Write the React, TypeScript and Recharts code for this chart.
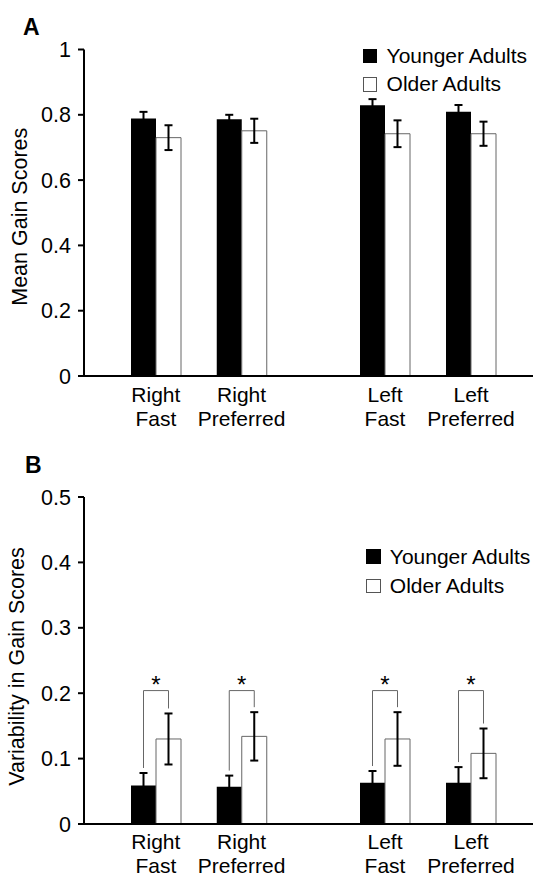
import React from "react";
import { BarChart, Bar, XAxis, YAxis, ErrorBar, Legend, LabelList, Label } from "recharts";

// category labels (two lines each)
const categories = ["Right\nFast", "Right\nPreferred", "Left\nFast", "Left\nPreferred"];

// panel A: mean gain scores
const meanYoung = [0.789, 0.786, 0.829, 0.809];
const meanYoungErr = [0.02, 0.014, 0.019, 0.021];
const meanOld = [0.73, 0.751, 0.742, 0.742];
const meanOldErr = [0.038, 0.037, 0.041, 0.037];
const meanTicks = [0, 0.2, 0.4, 0.6, 0.8, 1];

// panel B: variability in gain scores
const varYoung = [0.059, 0.057, 0.063, 0.063];
const varYoungErr = [0.019, 0.017, 0.018, 0.024];
const varOld = [0.13, 0.134, 0.13, 0.108];
const varOldErr = [0.039, 0.037, 0.041, 0.038];
const varTicks = [0, 0.1, 0.2, 0.3, 0.4, 0.5];
const varSignificant = [true, true, true, true];
const bracketLevel = 0.204;

const seriesKeys = ["young", "old"];
const seriesNames = { young: "Younger Adults", old: "Older Adults" };

type Row = {
  category: string;
  young: number;
  youngErr: number;
  old: number;
  oldErr: number;
  sig: boolean;
};

function buildRows(young: number[], youngErr: number[], old: number[], oldErr: number[], sig?: boolean[]): Row[] {
  return categories.map((category, i) => ({
    category,
    young: young[i],
    youngErr: youngErr[i],
    old: old[i],
    oldErr: oldErr[i],
    sig: sig ? sig[i] : false,
  }));
}

const meanRows = buildRows(meanYoung, meanYoungErr, meanOld, meanOldErr);
const varRows = buildRows(varYoung, varYoungErr, varOld, varOldErr, varSignificant);

const FONT = '"Liberation Sans", Arial, Helvetica, sans-serif';
const SPLIT = 536 - 223;

const legendBox: Record<string, { bg: string; border: string }> = {
  young: { bg: "#000", border: "#000" },
  old: { bg: "#fff", border: "#555" },
};

const makeTick = (firstDy: number) => (props: any) => {
  const { x, y, payload } = props;
  const lines = String(payload.value).split("\n");
  return (
    <text x={x} y={y} textAnchor="middle" fontSize={21} fill="#000">
      {lines.map((l, i) => (
        <tspan key={i} x={x} dy={i === 0 ? firstDy : 24}>
          {l}
        </tspan>
      ))}
    </text>
  );
};

const makeBracket = (rows: Row[]) => (props: any) => {
  const vb = props.viewBox || props;
  const { x, y, width, height } = vb;
  const row = rows[props.index];
  if (!row || !row.sig || !height) return null;
  const bottom = y + height;
  const ppu = height / row.old;
  const lx = x - width / 2;
  const rx = x + width / 2;
  const top = bottom - bracketLevel * ppu;
  const ly = bottom - (row.young + row.youngErr) * ppu - 5;
  const ry = bottom - (row.old + row.oldErr) * ppu - 5;
  return (
    <g>
      <polyline
        points={`${lx},${ly} ${lx},${top} ${rx},${top} ${rx},${ry}`}
        fill="none"
        stroke="#666"
        strokeWidth={1}
      />
      <text x={(lx + rx) / 2} y={top + 2.5} textAnchor="middle" fontSize={24} fill="#000">
        *
      </text>
    </g>
  );
};

type PanelProps = {
  letter: string;
  top: number;
  height: number;
  plotTop: number;
  plotBottom: number;
  rows: Row[];
  domain: [number, number];
  ticks: number[];
  yLabel: string;
  yLabelX: number;
  yLabelShift: number;
  legendLeft: number;
  legendTop: number;
  legendRow: number;
  legendGap: number;
  tickDy: number;
  letterLeft: number;
  letterTop: number;
  brackets: boolean;
};

function Panel(p: PanelProps) {
  const leftRows = p.rows.slice(0, 2);
  const rightRows = p.rows.slice(2);
  const xAxisHeight = p.height - p.plotBottom;
  const tick = makeTick(p.tickDy);

  const renderYLabel = () => {
    const cx = p.yLabelX;
    const cy = (p.plotTop + p.plotBottom) / 2 + p.yLabelShift;
    return (
      <text
        x={cx}
        y={cy}
        transform={`rotate(-90 ${cx} ${cy})`}
        textAnchor="middle"
        dominantBaseline="central"
        fontSize={21.5}
        fill="#000"
      >
        {p.yLabel}
      </text>
    );
  };

  const renderLegend = (props: any) => {
    const items = [...(props.payload || [])].sort(
      (a: any, b: any) => seriesKeys.indexOf(a.dataKey) - seriesKeys.indexOf(b.dataKey)
    );
    return (
      <div style={{ fontSize: 21, lineHeight: `${p.legendRow}px`, whiteSpace: "nowrap", color: "#000" }}>
        {items.map((entry: any) => {
          const box = legendBox[entry.dataKey] || { bg: entry.color, border: entry.color };
          return (
            <div key={entry.dataKey} style={{ display: "flex", alignItems: "center" }}>
              <span
                style={{
                  display: "inline-block",
                  width: 14.5,
                  height: 14.5,
                  boxSizing: "border-box",
                  background: box.bg,
                  border: `1px solid ${box.border}`,
                  marginRight: p.legendGap,
                }}
              />
              <span>{entry.value}</span>
            </div>
          );
        })}
      </div>
    );
  };

  const bars = (rows: Row[]) => [
    <Bar key="young" dataKey="young" name={seriesNames.young} fill="#000" isAnimationActive={false}>
      <ErrorBar dataKey="youngErr" width={4} strokeWidth={2} stroke="#000" direction="y" isAnimationActive={false} />
    </Bar>,
    <Bar key="old" dataKey="old" name={seriesNames.old} fill="#fff" stroke="#666" strokeWidth={1} isAnimationActive={false}>
      <ErrorBar dataKey="oldErr" width={4} strokeWidth={2} stroke="#000" direction="y" isAnimationActive={false} />
      {p.brackets ? <LabelList dataKey="old" content={makeBracket(rows)} /> : null}
    </Bar>,
  ];

  const axisLine = { stroke: "#000", strokeWidth: 2 };

  return (
    <div style={{ position: "absolute", left: 0, top: p.top, width: 536, height: p.height }}>
      <div
        style={{
          position: "absolute",
          left: p.letterLeft,
          top: p.letterTop,
          fontWeight: "bold",
          fontSize: 23,
          lineHeight: "23px",
        }}
      >
        {p.letter}
      </div>
      <div style={{ position: "absolute", left: 0, top: 0 }}>
        <BarChart
          width={SPLIT}
          height={p.height}
          data={leftRows}
          margin={{ top: p.plotTop, right: 0, bottom: 0, left: 0 }}
          barGap={0}
          barSize={25}
        >
          <XAxis
            dataKey="category"
            height={xAxisHeight}
            interval={0}
            tickLine={false}
            tickSize={0}
            tickMargin={0}
            axisLine={axisLine}
            tick={tick}
            padding={{ left: 29, right: 28.5 }}
          />
          <YAxis
            width={84}
            domain={p.domain}
            ticks={p.ticks}
            interval={0}
            tick={{ fontSize: 21.5, fill: "#000" }}
            tickSize={6}
            tickMargin={7}
            axisLine={axisLine}
            tickLine={{ stroke: "#000", strokeWidth: 2 }}
            label={<Label content={renderYLabel} />}
          />
          {bars(leftRows)}
        </BarChart>
      </div>
      <div style={{ position: "absolute", left: SPLIT, top: 0 }}>
        <BarChart
          width={536 - SPLIT}
          height={p.height}
          data={rightRows}
          margin={{ top: p.plotTop, right: 3, bottom: 0, left: 0 }}
          barGap={0}
          barSize={25}
        >
          <XAxis
            dataKey="category"
            height={xAxisHeight}
            interval={0}
            tickLine={false}
            tickSize={0}
            tickMargin={0}
            axisLine={axisLine}
            tick={tick}
            padding={{ left: 29, right: 19 }}
          />
          <YAxis hide domain={p.domain} ticks={p.ticks} />
          <Legend
            layout="horizontal"
            verticalAlign="middle"
            align="center"
            wrapperStyle={{ left: p.legendLeft, top: p.legendTop, width: "auto", height: "auto" }}
            content={renderLegend}
          />
          {bars(rightRows)}
        </BarChart>
      </div>
    </div>
  );
}

export default function App() {
  return (
    <div
      style={{
        position: "absolute",
        left: 0,
        top: 0,
        width: 536,
        height: 875,
        background: "#fff",
        fontFamily: FONT,
        overflow: "hidden",
      }}
    >
      <Panel
        letter="A"
        top={0}
        height={430}
        plotTop={49.5}
        plotBottom={376}
        rows={meanRows}
        domain={[0, 1]}
        ticks={meanTicks}
        yLabel="Mean Gain Scores"
        yLabelX={20}
        yLabelShift={4}
        legendLeft={49.7}
        legendTop={41.8}
        legendRow={28.5}
        legendGap={9.4}
        tickDy={26}
        letterLeft={23}
        letterTop={16}
        brackets={false}
      />
      <Panel
        letter="B"
        top={430}
        height={445}
        plotTop={67}
        plotBottom={394}
        rows={varRows}
        domain={[0, 0.5]}
        ticks={varTicks}
        yLabel="Variability in Gain Scores"
        yLabelX={16.5}
        yLabelShift={6}
        legendLeft={53}
        legendTop={111.8}
        legendRow={29.4}
        legendGap={9.3}
        tickDy={24.5}
        letterLeft={25}
        letterTop={24}
        brackets={true}
      />
    </div>
  );
}
